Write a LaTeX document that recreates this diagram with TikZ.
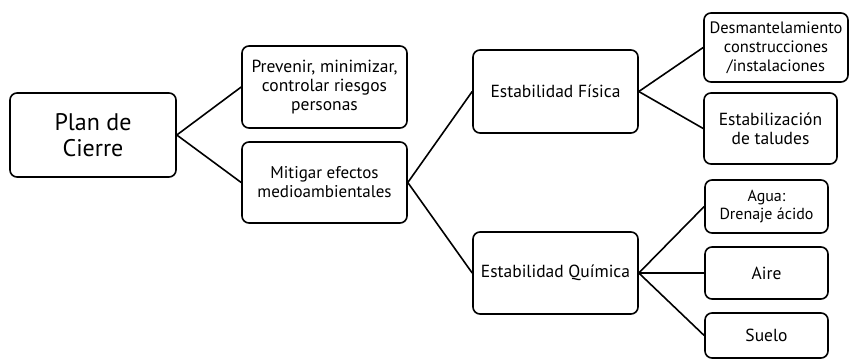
\documentclass[tikz,border=0pt]{standalone}
\usepackage{fontspec}
\setmainfont{PT Sans}
\begin{document}
\begin{tikzpicture}[x=1pt,y=-1pt,
  box/.style={draw, line width=1.6pt, rounded corners=7pt, align=center, inner sep=0pt,
    font=\fontsize{17.5}{19}\selectfont},
  conn/.style={line width=1.6pt}]
\useasboundingbox (0,0) rectangle (850,362);
\node[box, minimum width=166, minimum height=84, font=\fontsize{24}{26}\selectfont] (plan) at (93,135) {Plan de\\Cierre};
\node[box, minimum width=165, minimum height=82] (prev) at (324.5,87) {Prevenir, minimizar,\\controlar riesgos\\personas};
\node[box, minimum width=165, minimum height=81, font=\fontsize{17}{19}\selectfont] (mitig) at (324.5,182.5) {Mitigar efectos\\medioambientales};
\node[box, minimum width=165, minimum height=83] (fis) at (555.5,91.5) {Estabilidad Física};
\node[box, minimum width=165, minimum height=82] (quim) at (555.5,273) {Estabilidad Química};
\node[box, minimum width=144, minimum height=69, font=\fontsize{16.5}{19}\selectfont] (desm) at (776,47.5) {Desmantelamiento\\construcciones\\/instalaciones};
\node[box, minimum width=133, minimum height=71] (estab) at (770.5,128.5) {Estabilización\\de taludes};
\node[box, minimum width=123, minimum height=53, font=\fontsize{16}{18}\selectfont] (agua) at (766.5,206.5) {Agua:\\Drenaje ácido};
\node[box, minimum width=123, minimum height=52] (aire) at (766.5,273) {Aire};
\node[box, minimum width=123, minimum height=45] (suelo) at (766.5,335.5) {Suelo};
\draw[conn] (plan.east) -- (prev.west);
\draw[conn] (plan.east) -- (mitig.west);
\draw[conn] (mitig.east) -- (fis.west);
\draw[conn] (mitig.east) -- (quim.west);
\draw[conn] (fis.east) -- (desm.west);
\draw[conn] (fis.east) -- (estab.west);
\draw[conn] (quim.east) -- (agua.west);
\draw[conn] (quim.east) -- (aire.west);
\draw[conn] (quim.east) -- (suelo.west);
\end{tikzpicture}
\end{document}
